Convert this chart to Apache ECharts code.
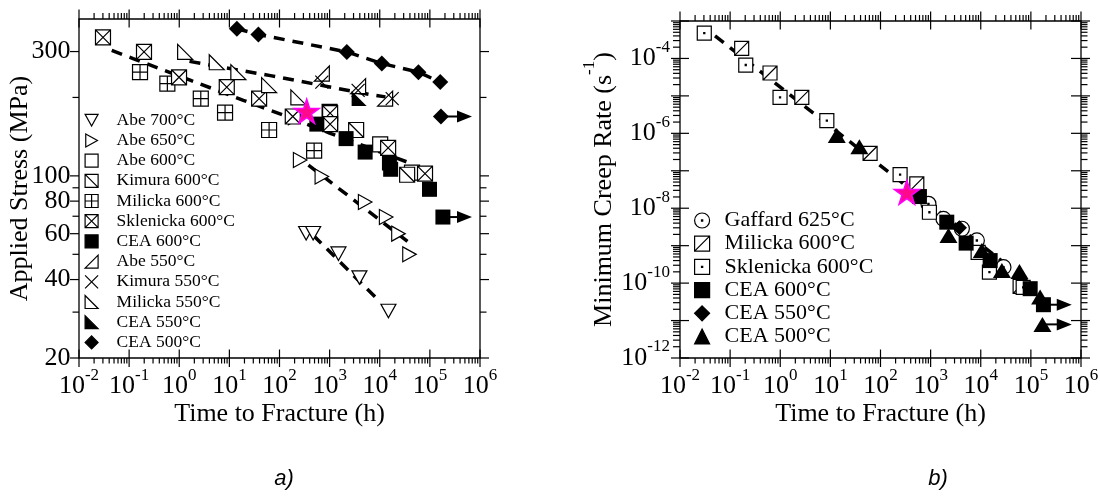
<!DOCTYPE html>
<html><head><meta charset="utf-8">
<script src="https://cdn.jsdelivr.net/npm/echarts@6/dist/echarts.min.js"></script>
<style>html,body{margin:0;padding:0;background:#fff}#c{width:1100px;height:496px}</style>
</head><body><div id="c"></div>
<script>
// ---------- Panel a) : time to fracture (h) vs applied stress (MPa) ----------
const abe700_t = [340, 469, 1500, 3930, 14900];
const abe700_s = [60.2, 60.2, 50.3, 40.7, 30.3];
const abe650_t = [205, 258, 699, 5110, 13400, 23600, 39200];
const abe650_s = [168, 115, 99.4, 79.4, 69.5, 60, 50];
const abe600_t = [1000, 10200, 44000];
const abe600_s = [176, 132, 103];
const kimura600_t = [1020, 3380, 35200];
const kimura600_s = [160.5, 150, 101];
const milicka600_t = [0.165, 0.579, 2.69, 8.2, 62, 491];
const milicka600_s = [250, 226, 198, 175, 150, 125];
const sklenicka600_t = [0.0301, 0.198, 0.99, 8.87, 39.2, 184, 1023, 1023, 14700, 80000];
const sklenicka600_s = [340, 299, 239, 219, 198, 169, 174, 158, 128, 102];
const cea600_t = [556, 2130, 5110, 15600, 16500, 98200, 182000];
const cea600_s = [158, 139, 123.4, 112, 106, 88.8, 69.5];
const abe550_t = [699, 3700, 12800];
const abe550_s = [247, 221, 198];
const kimura550_t = [699, 3700, 17700];
const kimura550_s = [229, 213, 198];
const milicka550_t = [1.31, 5.6, 15.1, 62, 238];
const milicka550_s = [299, 273, 250, 223, 200];
const cea550_t = [3880];
const cea550_s = [198];
const cea500_t = [14.1, 37.9, 2200, 11000, 59200, 161000, 166000];
const cea500_s = [367, 349, 299, 270, 250, 229, 169];
// run-out (unbroken) specimens: start time, stress, arrow head time
const runoutA_t = [182000, 166000];
const runoutA_s = [69.5, 169];
const runoutA_end = [490000, 490000];
// fitted (dashed) curves
const fit500_t = [14.1, 37.9, 2200, 11000, 59200, 161000];
const fit500_s = [367, 349, 299, 270, 250, 229];
const fit550_t = [1.6, 70, 6500, 13000];
const fit550_s = [275, 242, 205, 201];
const fit600_t = [0.045, 0.12, 1.65, 19, 120, 1000, 40000];
const fit600_s = [303, 282, 233, 195, 171, 146, 112];
const fit650_t = [378, 37400];
const fit650_s = [110, 55.7];
const fit700_t = [475, 10200];
const fit700_s = [59.1, 32.8];
const starA = [349, 177];

// ---------- Panel b) : time to fracture (h) vs minimum creep rate (1/s) ----------
const gaffard625_t = [904, 1800, 4200, 8360, 28400];
const gaffard625_r = [1.31e-8, 5.2e-9, 2.83e-9, 1.38e-9, 2.67e-10];
const milickaB_t = [0.17, 0.625, 2.69, 62, 530, 61000];
const milickaB_r = [1.85e-4, 4.08e-5, 9.1e-6, 2.93e-7, 4.48e-8, 8.2e-11];
const sklenickaB_t = [0.0305, 0.205, 0.99, 8.5, 246, 946, 8870, 14900, 70200];
const sklenickaB_r = [4.75e-4, 6.67e-5, 9.1e-6, 2.18e-6, 7.9e-8, 7.8e-9, 6.6e-10, 1.96e-10, 7.7e-11];
const ceaB600_t = [598, 2100, 5110, 15400, 96900, 178000];
const ceaB600_r = [2.05e-8, 4.24e-9, 1.17e-9, 4.0e-10, 7.1e-11, 2.65e-11];
const ceaB550_t = [3760];
const ceaB550_r = [3.0e-9];
const ceaB500_t = [13.4, 37.9, 2270, 10500, 26400, 59200, 153000, 170000];
const ceaB500_r = [8.7e-7, 4.4e-7, 1.87e-9, 7.4e-10, 2.18e-10, 2.05e-10, 4.24e-11, 7.9e-12];
const runoutB_t = [178000, 170000];
const runoutB_r = [2.65e-11, 7.9e-12];
const runoutB_end = [463000, 463000];
const fitB_t = [0.05, 30000];
const fitB_r = [4.0e-4, 3.4e-10];
const starB = [335, 2.67e-8];

// ---------- tick labels ----------
const xLabelExps = [-2, -1, 0, 1, 2, 3, 4, 5, 6];
const yLabelsA = [20, 40, 60, 80, 100, 300];
const yMinorA = [30, 50, 70, 90, 200];
const yLabelExpsB = [-12, -10, -8, -6, -4];

const FONT = 'Liberation Serif';
const zip = (a, b) => a.map((v, i) => [v, b[i]]);

const P = {
  triDown: 'path://M0,0L10,0L5,9Z',
  triRight: 'path://M0,0L9,5L0,10Z',
  sq: 'path://M0,0H10V10H0Z',
  sqBack: 'path://M0,0H10V10H0Z M0,0L10,10',
  sqPlus: 'path://M0,0H10V10H0Z M5,0V10 M0,5H10',
  sqX: 'path://M0,0H10V10H0Z M0,0L10,10 M10,0L0,10',
  triUR: 'path://M0,10L10,0L10,10Z',
  cross: 'path://M0,0L10,10 M10,0L0,10',
  triLL: 'path://M0,0L10,10L0,10Z',
  circDot: 'path://M0,5A5,5 0 1 1 10,5A5,5 0 1 1 0,5Z M4.6,4.6H5.4V5.4H4.6Z',
  sqSlash: 'path://M0,0H10V10H0Z M0,10L10,0',
  sqDot: 'path://M0,0H10V10H0Z M4.6,4.6H5.4V5.4H4.6Z',
  arrow: 'path://M0,0L10,5L0,10Z',
  star: 'path://M10,0L12.245,6.91L19.51,6.91L13.63,11.18L15.88,18.09L10,13.82L4.12,18.09L6.37,11.18L0.49,6.91L7.755,6.91Z'
};

function scatter(name, gi, t, v, symbol, size, filled) {
  return {
    name, type: 'scatter', xAxisIndex: gi, yAxisIndex: gi, data: zip(t, v),
    symbol, symbolSize: size, z: 3, animation: false, emphasis: {disabled: true},
    itemStyle: filled ? {color: '#000', borderColor: '#000', borderWidth: 0, opacity: 1}
                      : {color: '#fff', borderColor: '#000', borderWidth: 1.2, opacity: 1}
  };
}
function fit(gi, t, v) {
  return {type: 'line', xAxisIndex: gi, yAxisIndex: gi, data: zip(t, v), symbol: 'none',
    lineStyle: {color: '#000', width: 3.5, type: [11, 8]}, z: 2, silent: true, animation: false};
}
function runout(gi, t, v, e) {
  return {type: 'line', xAxisIndex: gi, yAxisIndex: gi, showSymbol: true, silent: true, animation: false, z: 2,
    data: [{value: [t, v], symbol: 'none'}, {value: [e, v], symbol: P.arrow, symbolSize: [15, 12]}],
    lineStyle: {color: '#000', width: 2}, itemStyle: {color: '#000', borderWidth: 0, opacity: 1}};
}
function star(gi, p) {
  return {type: 'scatter', xAxisIndex: gi, yAxisIndex: gi, data: [p], symbol: P.star, symbolSize: [25, 24], z: 4,
    silent: true, animation: false, itemStyle: {color: '#ff0a8a', borderColor: '#ff00ff', borderWidth: 1.5, opacity: 1}};
}

const RICH = {
  b: {fontSize: 26, fontFamily: FONT, lineHeight: 39, fill: '#000'},
  s: {fontSize: 17, fontFamily: FONT, lineHeight: 17, verticalAlign: 'top', fill: '#000'}
};
const LS = {stroke: '#000', lineWidth: 1.2};

function logTicks(e0, e1) {
  const out = [];
  for (let e = e0; e <= e1; e++) {
    out.push({v: Math.pow(10, e), major: true, exp: e});
    if (e < e1) for (let k = 2; k <= 9; k++) out.push({v: k * Math.pow(10, e), major: false});
  }
  return out;
}
function xTickSeries(gi, yRef) {
  const ticks = logTicks(-2, 6);
  return {type: 'custom', xAxisIndex: gi, yAxisIndex: gi, silent: true, z: 10, animation: false,
    data: ticks.map(t => [t.v, yRef]),
    renderItem: function (params, api) {
      const t = ticks[params.dataIndex], cs = params.coordSys;
      const x = api.coord([t.v, yRef])[0];
      const top = cs.y, bot = cs.y + cs.height, ch = [];
      if (t.major) {
        ch.push({type: 'line', shape: {x1: x, y1: bot - 8.5, x2: x, y2: bot + 9}, style: LS});
        ch.push({type: 'line', shape: {x1: x, y1: top - 9.5, x2: x, y2: top + 8.5}, style: LS});
        if (xLabelExps.indexOf(t.exp) >= 0)
          ch.push({type: 'text', x: x, y: bot + 9, style: {text: '{b|10}{s|' + t.exp + '}', rich: RICH, align: 'center', verticalAlign: 'top', fill: '#000'}});
      } else {
        ch.push({type: 'line', shape: {x1: x, y1: bot, x2: x, y2: bot + 5.5}, style: LS});
        ch.push({type: 'line', shape: {x1: x, y1: top - 6, x2: x, y2: top}, style: LS});
      }
      return {type: 'group', children: ch};
    }};
}
function yTickSeriesA(gi, xRef) {
  const ticks = yLabelsA.map(v => ({v, major: true})).concat(yMinorA.map(v => ({v, major: false})));
  return {type: 'custom', xAxisIndex: gi, yAxisIndex: gi, silent: true, z: 10, animation: false,
    data: ticks.map(t => [xRef, t.v]),
    renderItem: function (params, api) {
      const t = ticks[params.dataIndex], cs = params.coordSys;
      const y = api.coord([xRef, t.v])[1];
      const L = cs.x, R = cs.x + cs.width, len = t.major ? 9 : 6.5, ch = [];
      ch.push({type: 'line', shape: {x1: L - len, y1: y, x2: L, y2: y}, style: LS});
      ch.push({type: 'line', shape: {x1: R, y1: y, x2: R + len, y2: y}, style: LS});
      if (t.major) ch.push({type: 'text', x: L - 8.5, y: y, style: {text: String(t.v), fontSize: 26, fontFamily: FONT, fill: '#000', align: 'right', verticalAlign: 'middle'}});
      return {type: 'group', children: ch};
    }};
}
function yTickSeriesB(gi, xRef) {
  const ticks = logTicks(-12, -3);
  return {type: 'custom', xAxisIndex: gi, yAxisIndex: gi, silent: true, z: 10, animation: false,
    data: ticks.map(t => [xRef, t.v]),
    renderItem: function (params, api) {
      const t = ticks[params.dataIndex], cs = params.coordSys;
      const y = api.coord([xRef, t.v])[1];
      const L = cs.x, R = cs.x + cs.width, ch = [];
      if (t.major) {
        ch.push({type: 'line', shape: {x1: L - 9, y1: y, x2: L + 9, y2: y}, style: LS});
        ch.push({type: 'line', shape: {x1: R - 10, y1: y, x2: R + 9, y2: y}, style: LS});
        if (yLabelExpsB.indexOf(t.exp) >= 0)
          ch.push({type: 'text', x: L - 10, y: y, style: {text: '{b|10}{s|' + t.exp + '}', rich: RICH, align: 'right', verticalAlign: 'middle', fill: '#000'}});
      } else {
        ch.push({type: 'line', shape: {x1: L - 7, y1: y, x2: L, y2: y}, style: LS});
        ch.push({type: 'line', shape: {x1: R, y1: y, x2: R + 6.5, y2: y}, style: LS});
      }
      return {type: 'group', children: ch};
    }};
}

const hiddenAxis = {axisLine: {show: false}, axisTick: {show: false}, axisLabel: {show: false}, splitLine: {show: false}};
const nameStyle = {fontFamily: FONT, fontSize: 26, color: '#000', lineHeight: 30};

const namesA = ['Abe 700°C', 'Abe 650°C', 'Abe 600°C', 'Kimura 600°C', 'Milicka 600°C', 'Sklenicka 600°C',
  'CEA 600°C', 'Abe 550°C', 'Kimura 550°C', 'Milicka 550°C', 'CEA 550°C', 'CEA 500°C'];
const namesB = ['Gaffard 625°C', 'Milicka 600°C', 'Sklenicka 600°C', 'CEA 600°C', 'CEA 550°C', 'CEA 500°C'].map(n => n + ' #b');

const chart = echarts.init(document.getElementById('c'), null, {renderer: 'canvas'});
chart.setOption({
  animation: false,
  textStyle: {fontFamily: FONT},
  grid: [
    {left: 79, top: 19, width: 401, height: 339, show: true, borderColor: '#000', borderWidth: 1.3, containLabel: false},
    {left: 680, top: 21, width: 401, height: 337, show: true, borderColor: '#000', borderWidth: 1.3, containLabel: false}
  ],
  xAxis: [
    Object.assign({type: 'log', gridIndex: 0, min: 0.01, max: 1e6, name: 'Time to Fracture (h)', nameLocation: 'middle', nameGap: 41, nameTextStyle: nameStyle}, hiddenAxis),
    Object.assign({type: 'log', gridIndex: 1, min: 0.01, max: 1e6, name: 'Time to Fracture (h)', nameLocation: 'middle', nameGap: 41, nameTextStyle: nameStyle}, hiddenAxis)
  ],
  yAxis: [
    Object.assign({type: 'log', gridIndex: 0, min: 20, max: 400, name: 'Applied Stress (MPa)', nameLocation: 'middle', nameGap: 44, nameTextStyle: nameStyle}, hiddenAxis),
    Object.assign({type: 'log', gridIndex: 1, min: 1e-12, max: 1e-3, name: 'Minimum Creep Rate (s{sup|-1})', nameLocation: 'middle', nameGap: 52,
      nameTextStyle: {fontFamily: FONT, fontSize: 26, color: '#000', lineHeight: 47,
        rich: {sup: {fontFamily: FONT, fontSize: 17, color: '#000', lineHeight: 17, verticalAlign: 'top'}}}}, hiddenAxis)
  ],
  legend: [
    {data: namesA, orient: 'vertical', left: 84.5, top: 111.2, padding: 0, itemWidth: 13, itemHeight: 13, itemGap: 2.2,
      selectedMode: false, itemStyle: {borderWidth: 1.2, borderColor: '#000', opacity: 1},
      textStyle: {fontFamily: FONT, fontSize: 17.5, color: '#000', padding: [0, 0, 0, 13.5]}},
    {data: namesB, orient: 'vertical', left: 694, top: 209.5, padding: 0, itemWidth: 15, itemHeight: 15, itemGap: 1.2,
      selectedMode: false, itemStyle: {borderWidth: 1.2, borderColor: '#000', opacity: 1},
      formatter: n => n.replace(' #b', ''),
      textStyle: {fontFamily: FONT, fontSize: 22, color: '#000', padding: [0, 0, 0, 10]}}
  ],
  graphic: [
    {type: 'text', x: 284, y: 479, style: {text: 'a)', fontSize: 22, fontFamily: 'Liberation Sans', fontStyle: 'italic', fill: '#000', align: 'center', verticalAlign: 'middle'}},
    {type: 'text', x: 938, y: 479, style: {text: 'b)', fontSize: 22, fontFamily: 'Liberation Sans', fontStyle: 'italic', fill: '#000', align: 'center', verticalAlign: 'middle'}}
  ],
  series: [
    fit(0, fit500_t, fit500_s), fit(0, fit550_t, fit550_s), fit(0, fit600_t, fit600_s),
    fit(0, fit650_t, fit650_s), fit(0, fit700_t, fit700_s),
    ...runoutA_t.map((t, i) => runout(0, t, runoutA_s[i], runoutA_end[i])),
    scatter(namesA[0], 0, abe700_t, abe700_s, P.triDown, [15, 13.5], false),
    scatter(namesA[1], 0, abe650_t, abe650_s, P.triRight, [13.5, 15], false),
    scatter(namesA[2], 0, abe600_t, abe600_s, P.sq, 15, false),
    scatter(namesA[3], 0, kimura600_t, kimura600_s, P.sqBack, 15, false),
    scatter(namesA[4], 0, milicka600_t, milicka600_s, P.sqPlus, 15, false),
    scatter(namesA[5], 0, sklenicka600_t, sklenicka600_s, P.sqX, 15, false),
    scatter(namesA[6], 0, cea600_t, cea600_s, P.sq, 15, true),
    scatter(namesA[7], 0, abe550_t, abe550_s, P.triUR, 15, false),
    scatter(namesA[8], 0, kimura550_t, kimura550_s, P.cross, 13, false),
    scatter(namesA[9], 0, milicka550_t, milicka550_s, P.triLL, 15, false),
    scatter(namesA[10], 0, cea550_t, cea550_s, P.triLL, 15, true),
    scatter(namesA[11], 0, cea500_t, cea500_s, 'diamond', 16, true),
    star(0, starA),
    fit(1, fitB_t, fitB_r),
    ...runoutB_t.map((t, i) => runout(1, t, runoutB_r[i], runoutB_end[i])),
    scatter(namesB[0], 1, gaffard625_t, gaffard625_r, P.circDot, 15, false),
    scatter(namesB[1], 1, milickaB_t, milickaB_r, P.sqSlash, 14, false),
    scatter(namesB[2], 1, sklenickaB_t, sklenickaB_r, P.sqDot, 14, false),
    scatter(namesB[3], 1, ceaB600_t, ceaB600_r, 'rect', 15, true),
    scatter(namesB[4], 1, ceaB550_t, ceaB550_r, 'diamond', 15, true),
    scatter(namesB[5], 1, ceaB500_t, ceaB500_r, 'triangle', [18, 15], true),
    star(1, starB),
    xTickSeries(0, 20), yTickSeriesA(0, 0.01),
    xTickSeries(1, 1e-12), yTickSeriesB(1, 0.01)
  ]
});
</script>
</body></html>
